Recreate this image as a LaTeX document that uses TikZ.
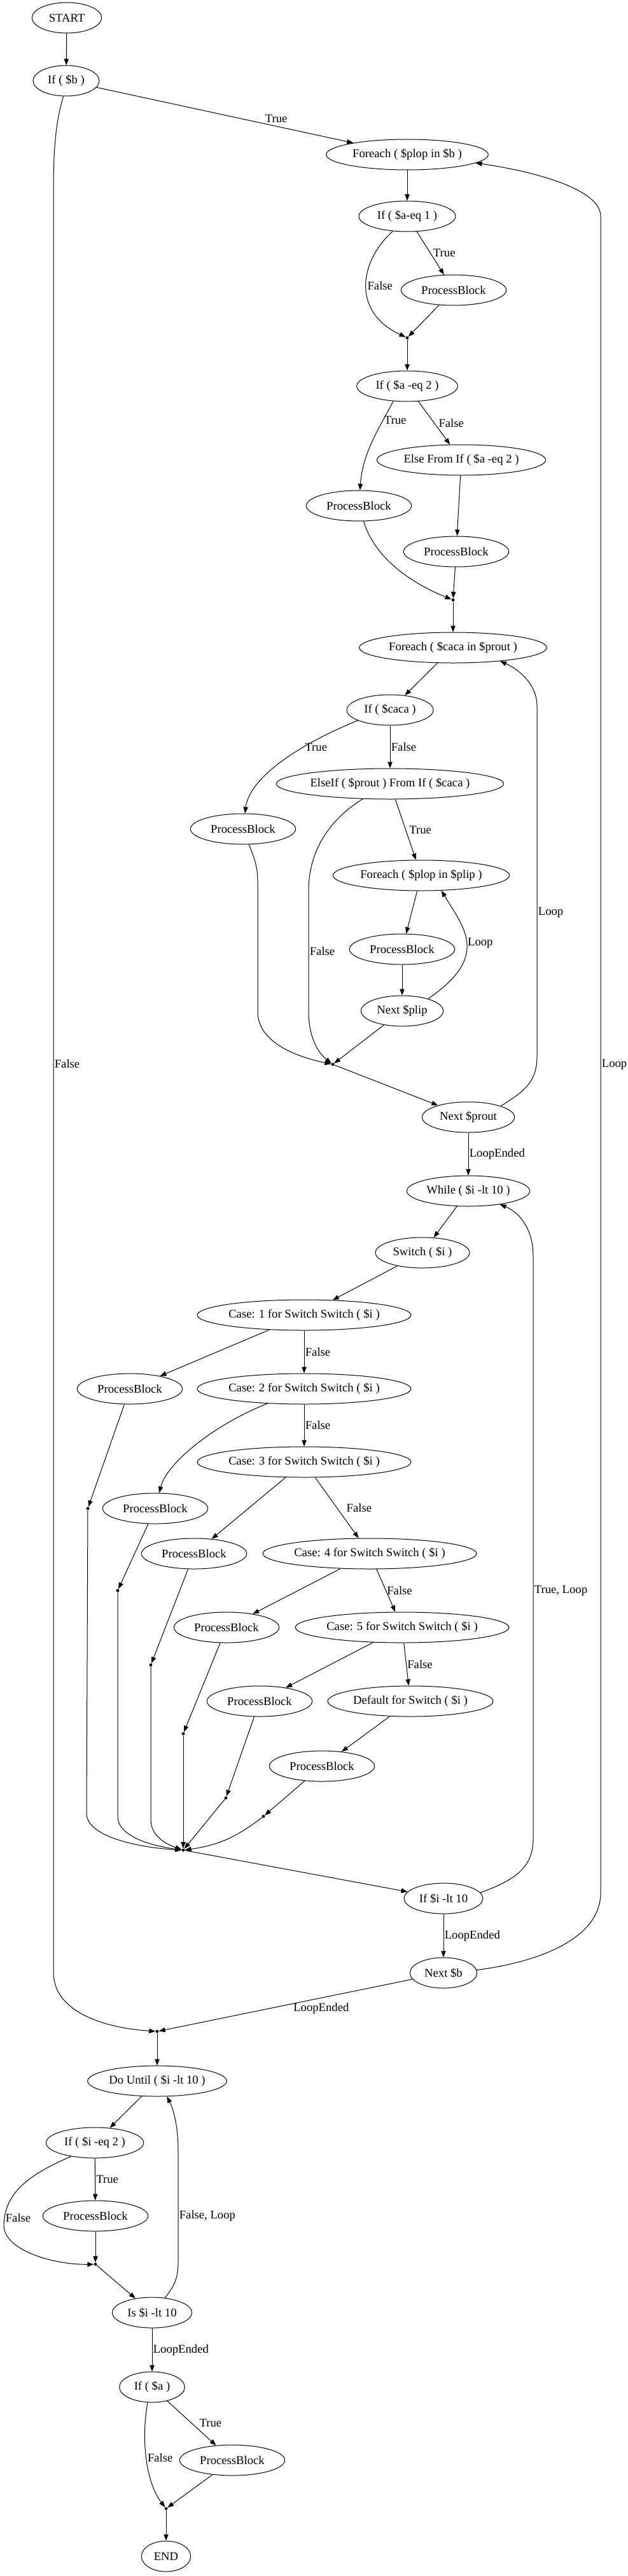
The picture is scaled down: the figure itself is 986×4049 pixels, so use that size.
\documentclass[tikz,border=0pt]{standalone}
\usepackage{fontspec}
\setmainfont{Liberation Serif}
\usetikzlibrary{arrows.meta,shapes.geometric}

\begin{document}
\begin{tikzpicture}[
  x=0.75pt, y=-0.75pt,
  font=\fontsize{14pt}{16pt}\selectfont, >={Triangle[length=7.5pt,width=5.5pt]},
  blk/.style={ellipse,draw,line width=0.75pt,inner sep=0pt,
              minimum height=36pt,minimum width=#1},
  jpt/.style={circle,fill,inner sep=0pt,minimum size=3.6pt},
  e/.style={->,line width=0.75pt},
  lbl/.style={inner sep=1pt},
]
\useasboundingbox (0,0) rectangle (986,4049);

% Outer block: If ( $b ) and the first foreach.
\node[blk=82pt]  (start) at (105,28)  {START};
\node[blk=78pt]  (ifb)   at (104,127) {If ( \$b )};
\node[blk=191pt] (fe1)   at (640,243) {Foreach ( \$plop in \$b )};
\node[blk=114pt] (ifa1)  at (640,340) {If ( \$a-eq 1 )};
\node[blk=124pt] (pb1)   at (713,456) {ProcessBlock};
\node[jpt]       (j1)    at (640,531) {};
\node[blk=119pt] (ifa2)  at (640,607) {If ( \$a -eq 2 )};
\node[blk=199pt] (els)   at (725,723) {Else From If ( \$a -eq 2 )};
\node[blk=124pt] (pb2)   at (564,795) {ProcessBlock};
\node[blk=124pt] (pb3)   at (717,867) {ProcessBlock};
\node[jpt]       (j2)    at (712,943) {};

% Nested foreach loops.
\node[blk=221pt] (fe2)    at (712,1018) {Foreach ( \$caca in \$prout )};
\node[blk=102pt] (ifc)    at (613,1116) {If ( \$caca )};
\node[blk=268pt] (elif)   at (613,1232) {ElseIf ( \$prout ) From If ( \$caca )};
\node[blk=124pt] (pb4)    at (382,1303) {ProcessBlock};
\node[blk=208pt] (fe3)    at (662,1376) {Foreach ( \$plop in \$plip )};
\node[blk=124pt] (pb5)    at (632,1492) {ProcessBlock};
\node[blk=97pt]  (nplip)  at (632,1589) {Next \$plip};
\node[jpt]       (j3)     at (523,1673) {};
\node[blk=109pt] (nprout) at (736,1756) {Next \$prout};

% While loop with the switch cascade.
\node[blk=145pt] (whl)  at (736,1872) {While ( \$i -lt 10 )};
\node[blk=111pt] (sw)   at (664,1969) {Switch ( \$i )};
\node[blk=250pt] (cs1)  at (478,2067) {Case: 1 for Switch Switch ( \$i )};
\node[blk=250pt] (cs2)  at (478,2183) {Case: 2 for Switch Switch ( \$i )};
\node[blk=250pt] (cs3)  at (478,2298) {Case: 3 for Switch Switch ( \$i )};
\node[blk=250pt] (cs4)  at (581,2442) {Case: 4 for Switch Switch ( \$i )};
\node[blk=250pt] (cs5)  at (632,2558) {Case: 5 for Switch Switch ( \$i )};
\node[blk=195pt] (dflt) at (645,2674) {Default for Switch ( \$i )};
\node[blk=124pt] (pbA)  at (204,2183) {ProcessBlock};
\node[blk=124pt] (pbB)  at (244,2371) {ProcessBlock};
\node[blk=124pt] (pbC)  at (305,2442) {ProcessBlock};
\node[blk=124pt] (pbD)  at (356,2558) {ProcessBlock};
\node[blk=124pt] (pbE)  at (408,2674) {ProcessBlock};
\node[blk=124pt] (pbF)  at (506,2776) {ProcessBlock};
\node[jpt] (jA) at (138,2371) {};
\node[jpt] (jB) at (185,2500) {};
\node[jpt] (jC) at (237,2617) {};
\node[jpt] (jD) at (288,2725) {};
\node[jpt] (jE) at (355,2826) {};
\node[jpt] (jF) at (414,2855) {};
\node[jpt] (j4) at (288,2908) {};
\node[blk=93pt]  (ifi)   at (697,2984) {If \$i -lt 10};
\node[blk=79pt]  (nextb) at (697,3101) {Next \$b};
\node[jpt]       (j5)    at (247,3193) {};

% Do until loop and the last if.
\node[blk=164pt]   (dou)  at (247,3271) {Do Until ( \$i -lt 10 )};
\node[blk=115pt]   (ifi2) at (149,3368) {If ( \$i -eq 2 )};
\node[blk=124pt]   (pb6)  at (150,3483) {ProcessBlock};
\node[jpt]         (j6)   at (150,3559) {};
\node[blk=94pt]    (isi)  at (239,3635) {Is \$i -lt 10};
\node[blk=77pt]    (ifa)  at (239,3752) {If ( \$a )};
\node[blk=124pt]   (pb7)  at (365,3867) {ProcessBlock};
\node[jpt]         (j7)   at (261,3943) {};
\node[blk=58pt]    (fin)  at (261,4018) {END};

% Top part.
\draw[e] (start) -- (ifb);
\draw[e] (ifb) -- (fe1) node[lbl,pos=0.7,above=3pt] {True};
\draw[e] (ifb.-100) .. controls (88,190) and (84,230) .. (84,300)
              -- (84,3100) node[lbl,pos=0.49,right] {False}
              .. controls (84,3165) and (170,3188) .. (j5);
\draw[e] (fe1) -- (ifa1);
\draw[e] (ifa1) -- (pb1) node[lbl,midway,right=2pt] {True};
\draw[e] (ifa1.-134) .. controls (565,410) and (552,490) .. (j1)
              node[lbl,pos=0.5,right] {False};
\draw[e] (pb1) -- (j1);
\draw[e] (j1) -- (ifa2);
\draw[e] (ifa2.-133) .. controls (598,670) and (570,710) .. (pb2)
              node[lbl,pos=0.25,right] {True};
\draw[e] (ifa2) -- (els) node[lbl,midway,right=4pt] {False};
\draw[e] (els) -- (pb3);
\draw[e] (pb2) .. controls (590,880) and (650,918) .. (j2);
\draw[e] (pb3) -- (j2);
\draw[e] (j2) -- (fe2);

% Foreach $caca / $plip; the loops run back up on the right.
\draw[e] (fe2) -- (ifc);
\draw[e] (ifc.-162) .. controls (470,1170) and (392,1222) .. (pb4)
              node[lbl,pos=0.33,right] {True};
\draw[e] (ifc) -- (elif) node[lbl,midway,right] {False};
\draw[e] (elif) -- (fe3) node[lbl,midway,right=3pt] {True};
\draw[e] (elif.-151) .. controls (515,1290) and (485,1340) .. (485,1400)
              -- (485,1590) node[lbl,midway,right] {False}
              .. controls (485,1630) and (500,1655) .. (j3);
\draw[e] (fe3) -- (pb5);
\draw[e] (pb5) -- (nplip);
\draw[e] (nplip.25) .. controls (770,1503) and (730,1460) .. (fe3.-37)
              node[lbl,pos=0.5,right] {Loop};
\draw[e] (nplip) -- (j3);
\draw[e] (pb4) .. controls (398,1345) and (405,1360) .. (405,1385)
              -- (405,1590) .. controls (405,1640) and (470,1662) .. (j3);
\draw[e] (j3) -- (nprout);
\draw[e] (nprout.19) .. controls (825,1715) and (844,1700) .. (844,1660)
              -- (844,1110) node[lbl,pos=0.41,right] {Loop}
              .. controls (844,1075) and (815,1052) .. (fe2.-16);
\draw[e] (nprout) -- (whl) node[lbl,midway,right] {LoopEnded};

% Switch cascade.
\draw[e] (whl) -- (sw);
\draw[e] (sw) -- (cs1);
\draw[e] (cs1) -- (pbA);
\draw[e] (cs1) -- (cs2) node[lbl,midway,right] {False};
\draw[e] (cs2) .. controls (335,2240) and (262,2300) .. (pbB);
\draw[e] (cs2) -- (cs3) node[lbl,midway,right] {False};
\draw[e] (cs3) -- (pbC);
\draw[e] (cs3) -- (cs4) node[lbl,midway,right=10pt] {False};
\draw[e] (cs4) -- (pbD);
\draw[e] (cs4) -- (cs5) node[lbl,midway,right] {False};
\draw[e] (cs5) -- (pbE);
\draw[e] (cs5) -- (dflt) node[lbl,midway,right] {False};
\draw[e] (dflt) -- (pbF);
\draw[e] (pbA) -- (jA);
\draw[e] (pbB) -- (jB);
\draw[e] (pbC) -- (jC);
\draw[e] (pbD) -- (jD);
\draw[e] (pbE) -- (jE);
\draw[e] (pbF) -- (jF);
\draw[e] (jA) -- (136,2850) .. controls (136,2890) and (230,2905) .. (j4);
\draw[e] (jB) -- (185,2855) .. controls (185,2890) and (250,2903) .. (j4);
\draw[e] (jC) -- (237,2860) .. controls (237,2888) and (265,2900) .. (j4);
\draw[e] (jD) -- (j4);
\draw[e] (jE) -- (j4);
\draw[e] (jF) to[bend left=15] (j4);
\draw[e] (j4) -- (ifi);
\draw[e] (ifi.9) .. controls (810,2955) and (838,2935) .. (838,2890)
              -- (838,1975) node[lbl,pos=0.426,right] {True, Loop}
              .. controls (838,1930) and (815,1905) .. (whl.-23);
\draw[e] (ifi) -- (nextb) node[lbl,midway,right] {LoopEnded};
\draw[e] (nextb.5) .. controls (840,3085) and (944,3050) .. (944,2975)
              -- (944,340) node[lbl,pos=0.494,right] {Loop}
              .. controls (944,295) and (830,268) .. (fe1.-7);
\draw[e] (nextb) -- (j5) node[lbl,pos=0.36,below=5pt] {LoopEnded};

% Do until and the end.
\draw[e] (j5) -- (dou);
\draw[e] (dou) -- (ifi2);
\draw[e] (ifi2) -- (pb6) node[lbl,midway,right] {True};
\draw[e] (ifi2.-150) .. controls (40,3420) and (6,3450) .. (6,3500)
              node[lbl,pos=0.9,right] {False}
              .. controls (10,3540) and (90,3560) .. (j6);
\draw[e] (pb6) -- (j6);
\draw[e] (j6) -- (isi);
\draw[e] (isi.49) .. controls (275,3592) and (280,3580) .. (280,3555)
              -- (280,3380) node[lbl,pos=0.41,right] {False, Loop}
              .. controls (280,3335) and (270,3310) .. (dou.-58);
\draw[e] (isi) -- (ifa) node[lbl,midway,right] {LoopEnded};
\draw[e] (ifa) -- (pb7) node[lbl,midway,right=8pt] {True};
\draw[e] (ifa.-106) .. controls (222,3830) and (228,3900) .. (j7)
              node[lbl,pos=0.5,right] {False};
\draw[e] (pb7) -- (j7);
\draw[e] (j7) -- (fin);
\end{tikzpicture}
\end{document}
